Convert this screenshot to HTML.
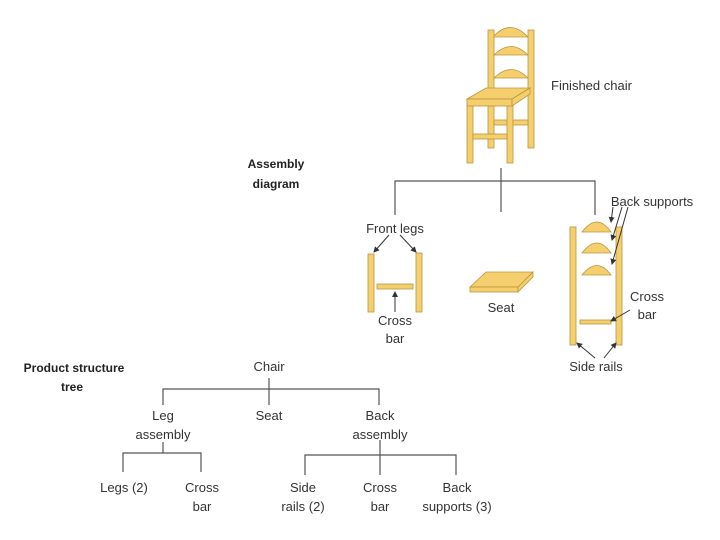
<!DOCTYPE html>
<html><head><meta charset="utf-8"><style>
html,body{margin:0;padding:0;background:#fff;}
svg{display:block;}
text{font-family:"Liberation Sans",sans-serif;font-size:13px;fill:#333;}
.b{font-weight:bold;font-size:12px;fill:#222;}
</style></head><body>
<svg width="720" height="540" viewBox="0 0 720 540" xmlns="http://www.w3.org/2000/svg">
<defs><marker id="a" markerWidth="6" markerHeight="6" refX="5" refY="3" orient="auto"><path d="M0,0 L6,3 L0,6 z" fill="#333"/></marker></defs>
<g fill="#f5cf6e" stroke="#b8963c" stroke-width="0.8">
<!-- chair -->
<path d="M493,37 Q510,18 528,37 Z"/>
<rect x="488" y="30" width="6" height="118"/>
<rect x="528" y="30" width="6" height="118"/>
<path d="M494,55 Q511,38 528,55 Z"/>
<path d="M494,78 Q511,61 528,78 Z"/>
<rect x="494" y="120" width="34" height="5"/>
<rect x="467" y="105" width="6" height="58"/>
<rect x="507" y="105" width="6" height="58"/>
<rect x="473" y="134" width="34" height="5"/>
<path d="M467,99 L486,88 L530,88 L512,99 Z"/>
<rect x="467" y="99" width="45" height="7"/>
<path d="M512,99 L530,88 L530,94 L512,106 Z"/>
<!-- front legs -->
<rect x="368" y="254" width="6" height="58"/>
<rect x="416" y="253" width="6" height="59"/>
<rect x="377" y="284" width="36" height="5"/>
<!-- seat -->
<path d="M470,287 L486,272 L533,272 L518,287 Z"/>
<rect x="470" y="287" width="48" height="5"/>
<path d="M518,287 L533,272 L533,277 L518,292 Z"/>
<!-- back -->
<rect x="570" y="227" width="6" height="118"/>
<rect x="616" y="227" width="6" height="118"/>
<path d="M582,232 Q597,212 611,232 Z"/>
<path d="M582,253 Q597,233 611,253 Z"/>
<path d="M582,275 Q597,256 611,275 Z"/>
<rect x="580" y="320" width="31" height="4"/>
</g>
<g stroke="#555" stroke-width="1.2" fill="none">
<path d="M395,215 V181 H595 V215 M501,168 V212"/>
</g>
<g stroke="#333" stroke-width="1" fill="none" marker-end="url(#a)">
<line x1="389" y1="235" x2="374" y2="252"/>
<line x1="400" y1="235" x2="416" y2="252"/>
<line x1="395" y1="312" x2="395" y2="292"/>
<line x1="613" y1="207" x2="611" y2="222"/>
<line x1="622" y1="207" x2="612" y2="240"/>
<line x1="628" y1="207" x2="612" y2="264"/>
<line x1="630" y1="310" x2="611" y2="321"/>
<line x1="595" y1="358" x2="577" y2="343"/>
<line x1="604" y1="358" x2="616" y2="343"/>
</g>
<text x="551" y="90">Finished chair</text>
<text class="b" x="276" y="168" text-anchor="middle">Assembly</text>
<text class="b" x="276" y="188" text-anchor="middle">diagram</text>
<text x="395" y="233" text-anchor="middle">Front legs</text>
<text x="395" y="325" text-anchor="middle">Cross</text>
<text x="395" y="343" text-anchor="middle">bar</text>
<text x="501" y="312" text-anchor="middle">Seat</text>
<text x="652" y="206" text-anchor="middle">Back supports</text>
<text x="647" y="301" text-anchor="middle">Cross</text>
<text x="647" y="319" text-anchor="middle">bar</text>
<text x="596" y="371" text-anchor="middle">Side rails</text>
<!-- tree -->
<g stroke="#555" stroke-width="1.2" fill="none">
<path d="M163,405 V389 H379 V405 M269,378 V405"/>
<path d="M163,442 V453 M123,472 V453 H201 V472"/>
<path d="M380,440 V455 M305,475 V455 H456 V475 M380,455 V475"/>
</g>
<text class="b" x="74" y="372" text-anchor="middle">Product structure</text>
<text class="b" x="72" y="391" text-anchor="middle">tree</text>
<text x="269" y="371" text-anchor="middle">Chair</text>
<text x="163" y="420" text-anchor="middle">Leg</text>
<text x="163" y="439" text-anchor="middle">assembly</text>
<text x="269" y="420" text-anchor="middle">Seat</text>
<text x="380" y="420" text-anchor="middle">Back</text>
<text x="380" y="439" text-anchor="middle">assembly</text>
<text x="124" y="492" text-anchor="middle">Legs (2)</text>
<text x="202" y="492" text-anchor="middle">Cross</text>
<text x="202" y="511" text-anchor="middle">bar</text>
<text x="303" y="492" text-anchor="middle">Side</text>
<text x="303" y="511" text-anchor="middle">rails (2)</text>
<text x="380" y="492" text-anchor="middle">Cross</text>
<text x="380" y="511" text-anchor="middle">bar</text>
<text x="457" y="492" text-anchor="middle">Back</text>
<text x="457" y="511" text-anchor="middle">supports (3)</text>
</svg>
</body></html>
